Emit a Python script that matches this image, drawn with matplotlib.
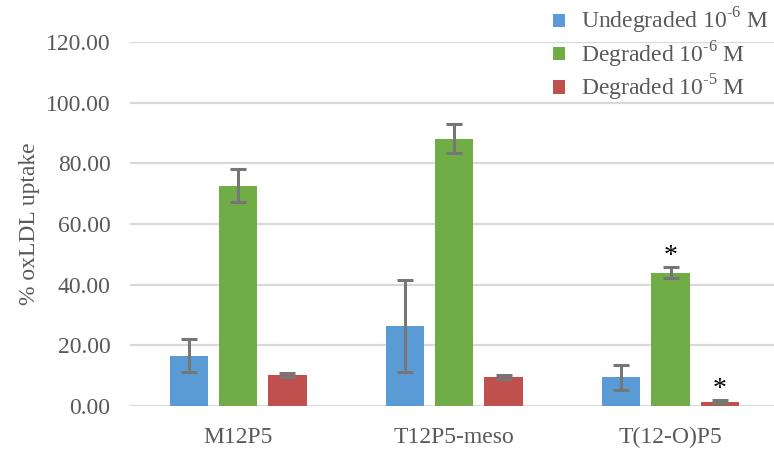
import numpy as np
import matplotlib
matplotlib.use("Agg")
import matplotlib.pyplot as plt

plt.rcParams['font.family'] = ['Liberation Serif', 'DejaVu Serif']
plt.rcParams['mathtext.fontset'] = 'custom'
plt.rcParams['mathtext.rm'] = 'Liberation Serif'

# Data
categories = ['M12P5', 'T12P5-meso', 'T(12-O)P5']
series_names = [r'Undegraded 10$^{\text{-6}}$ M',
                r'Degraded 10$^{\text{-6}}$ M',
                r'Degraded 10$^{\text{-5}}$ M']
undegraded_6 = [16.6, 26.3, 9.4]
undegraded_6_err = [5.4, 15.2, 4.1]
degraded_6 = [72.7, 88.2, 43.9]
degraded_6_err = [5.4, 4.8, 1.8]
degraded_5 = [10.2, 9.5, 1.4]
degraded_5_err = [0.6, 0.7, 0.6]
yticks = [0, 20, 40, 60, 80, 100, 120]
# significance stars: (category index, series index)
stars = [(2, 1), (2, 2)]

colors = ['#5B9BD5', '#70AD47', '#C0504D']
values = [undegraded_6, degraded_6, degraded_5]
errors = [undegraded_6_err, degraded_6_err, degraded_5_err]

fig = plt.figure(figsize=(7.74, 4.53), dpi=100)
ax = fig.add_axes([0.168, 0.104, 0.838, 0.803])

x = np.arange(len(categories))
width = 0.177
offsets = [-0.228, 0.0, 0.228]

for vals, errs, col, name, off in zip(values, errors, colors, series_names, offsets):
    ax.bar(x + off, vals, width, color=col, label=name, zorder=2)
    ax.errorbar(x + off, vals, yerr=errs, fmt='none', ecolor='#767676',
                elinewidth=2.2, capsize=6, capthick=2.2, zorder=3)

for ci, si in stars:
    top = values[si][ci] + errors[si][ci]
    ax.text(x[ci] + offsets[si], top + 3.5, '*', ha='center', va='center',
            fontsize=20, color='black', zorder=4)

ax.set_xlim(-0.5, 2.5)
ax.set_ylim(0, 120)
ax.set_yticks(yticks)
ax.set_yticklabels(['%.2f' % v for v in yticks])
ax.set_xticks(x)
ax.set_xticklabels(categories)
ax.tick_params(axis='both', length=0, labelsize=17, labelcolor='#595959')
ax.tick_params(axis='y', pad=14)
ax.tick_params(axis='x', pad=15)
ax.yaxis.grid(True, color='#D9D9D9', linewidth=1.6, zorder=0)
ax.set_axisbelow(True)
for s in ax.spines.values():
    s.set_visible(False)

ax.set_ylabel('% oxLDL uptake', fontsize=17, color='#595959', labelpad=4)

leg = ax.legend(loc='upper right', bbox_to_anchor=(1.0, 1.125), frameon=False,
                fontsize=17, labelcolor='#595959', handlelength=0.5,
                handleheight=0.5, handletextpad=0.7, labelspacing=0.12,
                borderaxespad=0.0)

fig.savefig('out.png', dpi=100)
